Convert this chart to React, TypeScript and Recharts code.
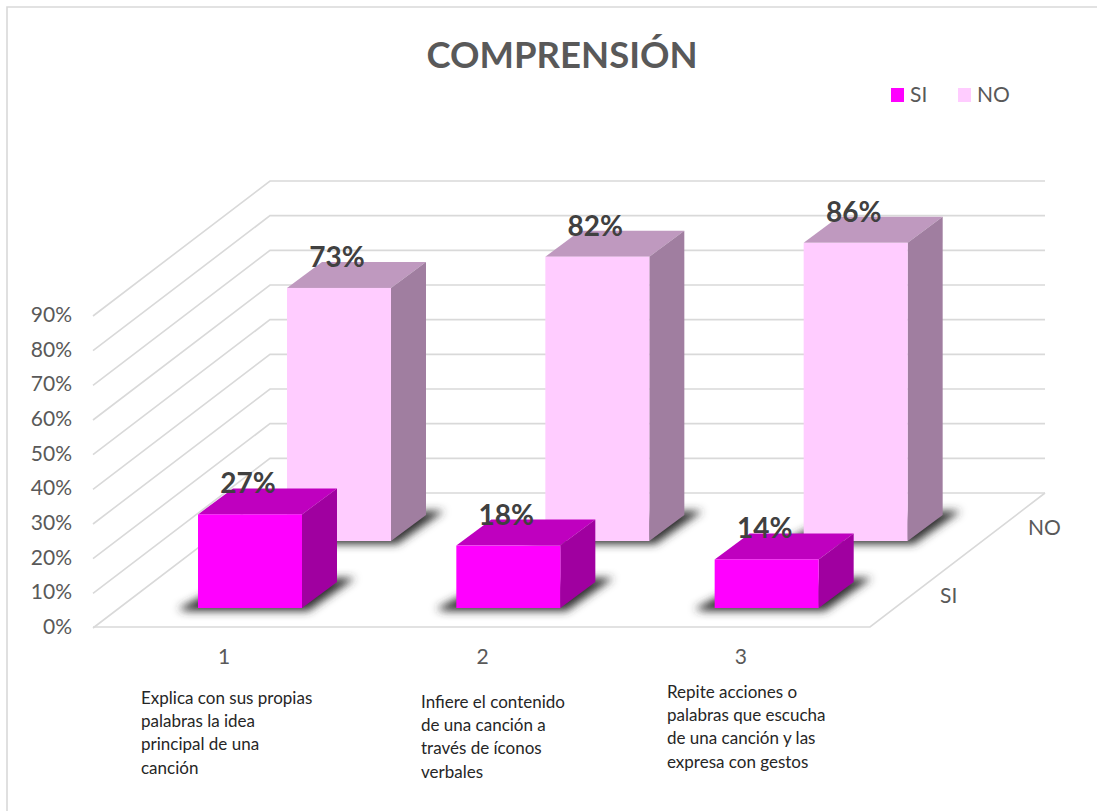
import React from 'react';
import { BarChart, Bar, XAxis, YAxis, LabelList, CartesianGrid } from 'recharts';

const categories = ['1', '2', '3'];
const descriptions = [
  ['Explica con sus propias', 'palabras la idea', 'principal de una', 'canción'],
  ['Infiere el contenido', 'de una canción a', 'través de íconos', 'verbales'],
  ['Repite acciones o', 'palabras que escucha', 'de una canción y las', 'expresa con gestos'],
];
const siValues = [27, 18, 14];
const noValues = [73, 82, 86];
const yTicks = [0, 10, 20, 30, 40, 50, 60, 70, 80, 90];
const seriesNames = ['SI', 'NO'];
const seriesColors = ['#ff00ff', '#ffccff'];

const rows = categories.map((category, i) => ({ category, SI: siValues[i], NO: noValues[i] }));

const FONT = 'Lato, Carlito, sans-serif';
const GRID = '#d9d9d9';
const TEXT = '#595959';
const DEPTH_X = 175;
const DEPTH_Y = -134;
const PLOT_LEFT = 95;
const PLOT_RIGHT = 870;
const PLOT_TOP = 315;
const PLOT_BOTTOM = 627;
const BAR_W = 104;
const BOX_X = 35;
const BOX_Y = -26;

const rowOffset = { SI: { dx: 26, dy: -19 }, NO: { dx: 115, dy: -86 } };

function WallLine(props: any) {
  const y = props.y1;
  const bx = PLOT_LEFT + DEPTH_X;
  return (
    <g key={`wall-${y}`}>
      <polyline
        points={`${PLOT_LEFT - 2},${y + 1} ${bx},${y + DEPTH_Y} ${PLOT_RIGHT + DEPTH_X},${y + DEPTH_Y}`}
        fill="none"
        stroke={GRID}
        strokeWidth={1.6}
      />
      {Math.abs(y - PLOT_BOTTOM) < 1 && (
        <polyline
          points={`${PLOT_LEFT - 2},${y} ${PLOT_RIGHT},${y} ${PLOT_RIGHT + DEPTH_X},${y + DEPTH_Y}`}
          fill="none"
          stroke={GRID}
          strokeWidth={1.6}
        />
      )}
    </g>
  );
}

function YTick(props: any) {
  const { x, y, payload } = props;
  return (
    <text x={x} y={y} dy={7} textAnchor="end" fontFamily={FONT} fontSize={21} fill={TEXT}>
      {payload.value}%
    </text>
  );
}

const descPos = [
  { x: 141, y: 704 },
  { x: 421, y: 708 },
  { x: 667, y: 698 },
];

function XTick(props: any) {
  const { x, y, payload, index } = props;
  const pos = descPos[index];
  return (
    <g>
      <text x={x} y={y} dy={7} textAnchor="middle" fontFamily={FONT} fontSize={21} fill={TEXT}>
        {payload.value}
      </text>
      <text fontFamily={FONT} fontSize={17} fill="#262626">
        {descriptions[index].map((line, i) => (
          <tspan key={line} x={pos.x} y={pos.y + i * 23.2}>
            {line}
          </tspan>
        ))}
      </text>
    </g>
  );
}

function makeBox(name: 'SI' | 'NO', front: string, top: string, side: string) {
  return function Box(props: any) {
    const { x, y, width, height } = props;
    const { dx, dy } = rowOffset[name];
    const l = x + dx;
    const r = l + width;
    const t = y + dy;
    const b = y + height + dy;
    return (
      <g>
        <polygon
          points={`${l - 20},${b + 1} ${l + 5},${b - 12} ${r + BOX_X},${b - 30} ${r + BOX_X + 18},${b - 30} ${r + 6},${b + 3} ${l - 10},${b + 3}`}
          fill="#333333"
          filter="url(#shadowBlur)"
        />
        <polygon points={`${l},${t} ${l + BOX_X},${t + BOX_Y} ${r + BOX_X},${t + BOX_Y} ${r},${t}`} fill={top} />
        <polygon points={`${r},${t} ${r + BOX_X},${t + BOX_Y} ${r + BOX_X},${b + BOX_Y} ${r},${b}`} fill={side} />
        <rect x={l} y={t} width={width} height={height} fill={front} />
      </g>
    );
  };
}

function makeLabel(name: 'SI' | 'NO') {
  return function BarLabel(props: any) {
    const { x, y, width, value } = props;
    const { dx, dy } = rowOffset[name];
    return (
      <text
        x={x + width / 2 + dx - 2}
        y={y + dy - 21}
        textAnchor="middle"
        fontFamily={FONT}
        fontWeight={700}
        fontSize={28}
        fill="#404040"
      >
        {value}%
      </text>
    );
  };
}

const NoBox = makeBox('NO', '#ffccff', '#bf99bf', '#a07ea0');
const SiBox = makeBox('SI', '#ff00ff', '#bf00bf', '#a000a0');
const NoLabel = makeLabel('NO');
const SiLabel = makeLabel('SI');

export default function App() {
  return (
    <div style={{ position: 'absolute', left: 0, top: 0, width: 1108, height: 811, overflow: 'hidden', background: '#fff' }}>
      <BarChart
        width={1108}
        height={811}
        data={rows}
        barSize={BAR_W}
        barGap={-BAR_W}
        margin={{ left: 0, right: 1108 - PLOT_RIGHT, top: PLOT_TOP, bottom: 0 }}
      >
        <defs>
          <filter id="shadowBlur" x="-20%" y="-40%" width="140%" height="180%">
            <feGaussianBlur stdDeviation="4" />
          </filter>
        </defs>
        <path d="M 1097 7 L 7 7 L 7 811" fill="none" stroke={GRID} strokeWidth={1.6} />
        <text x={562} y={68} textAnchor="middle" fontFamily={FONT} fontWeight={700} fontSize={36.5} fill={TEXT}>
          COMPRENSIÓN
        </text>
        {seriesNames.map((name, i) => {
          const lx = [891, 958][i];
          return (
            <g key={name}>
              <rect x={lx} y={88} width={13} height={14} fill={seriesColors[i]} />
              <text x={lx + 19} y={102} fontFamily={FONT} fontSize={21} fill={TEXT}>
                {name}
              </text>
            </g>
          );
        })}
        <text x={940} y={603} fontFamily={FONT} fontSize={21} fill={TEXT}>SI</text>
        <text x={1028} y={535} fontFamily={FONT} fontSize={21} fill={TEXT}>NO</text>
        <CartesianGrid vertical={false} horizontal={(p: any) => <WallLine {...p} />} />
        <YAxis
          type="number"
          domain={[0, 90]}
          ticks={yTicks}
          width={PLOT_LEFT}
          axisLine={false}
          tickLine={false}
          interval={0}
          tickMargin={0}
          tick={(p: any) => <YTick {...p} x={72} />}
        />
        <XAxis
          dataKey="category"
          height={811 - PLOT_BOTTOM}
          axisLine={false}
          tickLine={false}
          interval={0}
          tick={(p: any) => <XTick {...p} y={657} />}
        />
        <Bar dataKey="NO" fill="#ffccff" isAnimationActive={false} shape={NoBox}>
          <LabelList dataKey="NO" content={NoLabel} />
        </Bar>
        <Bar dataKey="SI" fill="#ff00ff" isAnimationActive={false} shape={SiBox}>
          <LabelList dataKey="SI" content={SiLabel} />
        </Bar>
      </BarChart>
    </div>
  );
}
